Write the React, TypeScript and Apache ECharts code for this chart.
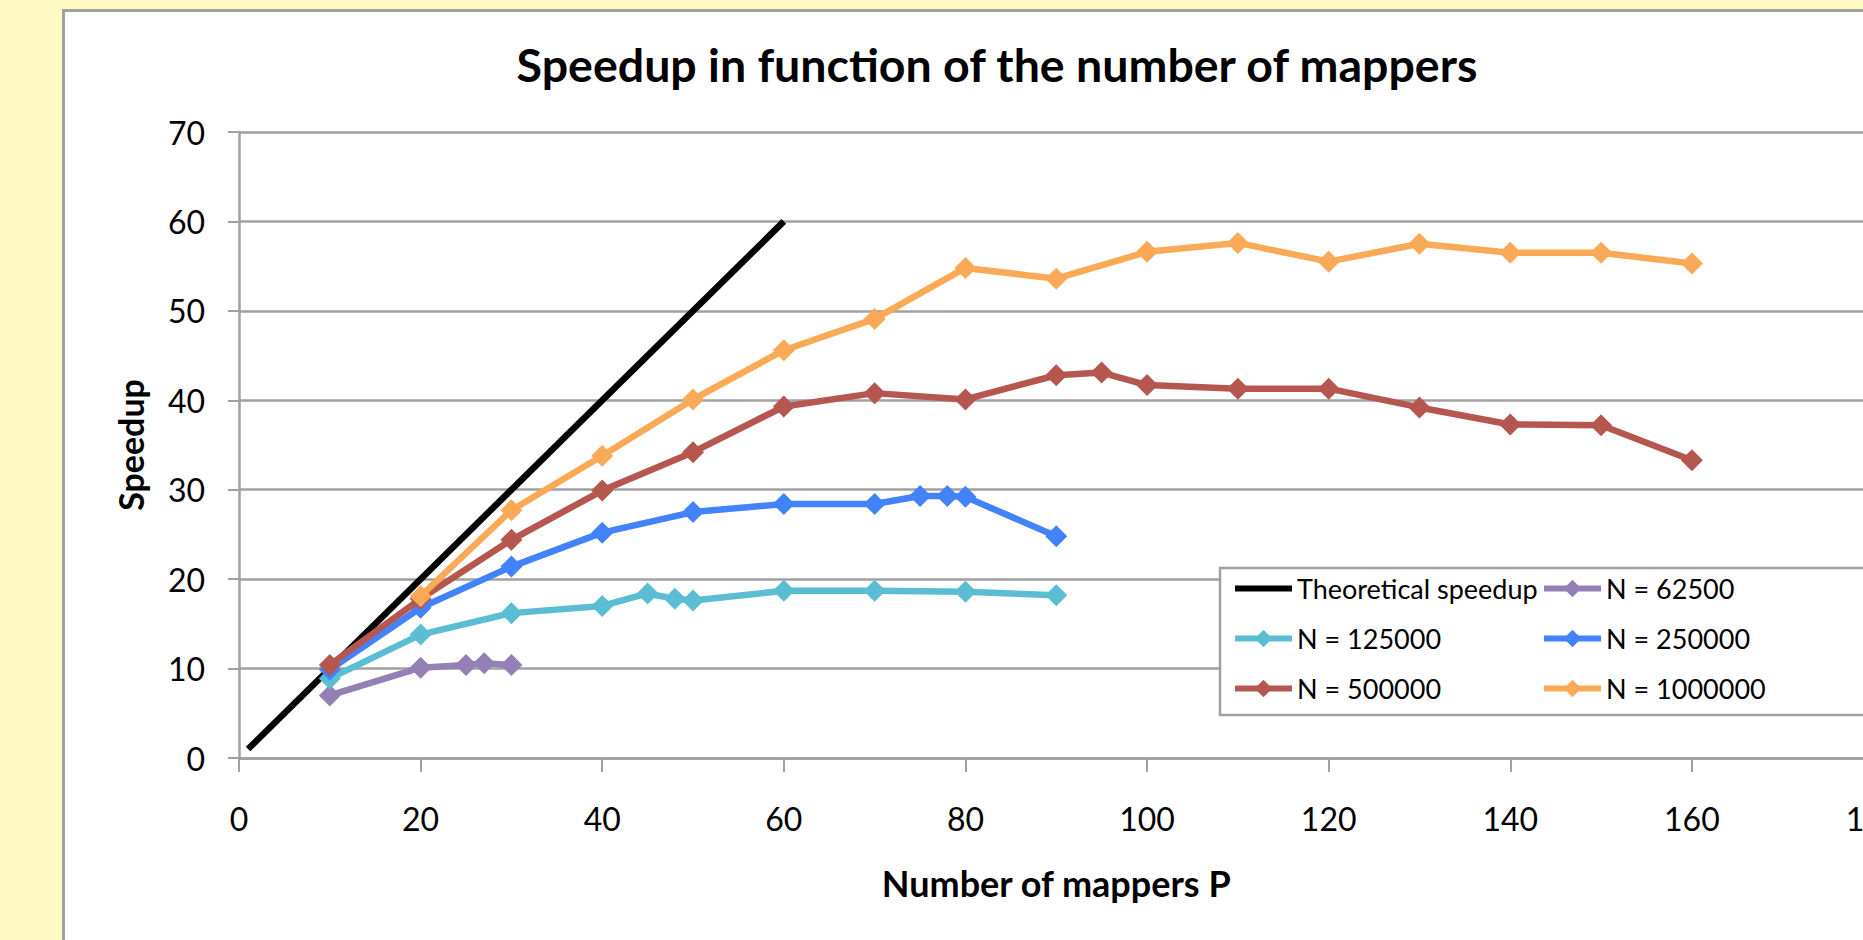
import React, { useEffect, useRef } from "react";
import * as echarts from "echarts";

const seriesNames = [
  "Theoretical speedup",
  "N = 62500",
  "N = 125000",
  "N = 250000",
  "N = 500000",
  "N = 1000000",
];

const theoretical: number[][] = [
  [1, 1],
  [60, 60],
];
const n62500: number[][] = [
  [10, 7.0],
  [20, 10.1],
  [25, 10.4],
  [27, 10.6],
  [30, 10.4],
];
const n125000: number[][] = [
  [10, 8.9],
  [20, 13.8],
  [30, 16.2],
  [40, 17.0],
  [45, 18.4],
  [48, 17.8],
  [50, 17.6],
  [60, 18.7],
  [70, 18.7],
  [80, 18.6],
  [90, 18.2],
];
const n250000: number[][] = [
  [10, 9.9],
  [20, 16.8],
  [30, 21.4],
  [40, 25.2],
  [50, 27.5],
  [60, 28.4],
  [70, 28.4],
  [75, 29.3],
  [78, 29.3],
  [80, 29.2],
  [90, 24.8],
];
const n500000: number[][] = [
  [10, 10.4],
  [20, 17.8],
  [30, 24.4],
  [40, 29.9],
  [50, 34.2],
  [60, 39.3],
  [70, 40.8],
  [80, 40.1],
  [90, 42.8],
  [95, 43.1],
  [100, 41.7],
  [110, 41.3],
  [120, 41.3],
  [130, 39.2],
  [140, 37.3],
  [150, 37.2],
  [160, 33.3],
];
const n1000000: number[][] = [
  [20, 18.1],
  [30, 27.7],
  [40, 33.8],
  [50, 40.1],
  [60, 45.6],
  [70, 49.1],
  [80, 54.8],
  [90, 53.6],
  [100, 56.6],
  [110, 57.6],
  [120, 55.5],
  [130, 57.5],
  [140, 56.5],
  [150, 56.5],
  [160, 55.3],
];

const colors = ["#000000", "#9580B5", "#5BBDD4", "#4283FB", "#B5574F", "#FAA957"];

const FONT = "Lato, 'Open Sans', sans-serif";

export default function App() {
  const ref = useRef<HTMLDivElement>(null);
  useEffect(() => {
    document.body.style.margin = "0";
    const chart = echarts.init(ref.current!, null, { renderer: "svg" });
    const datasets = [theoretical, n62500, n125000, n250000, n500000, n1000000];
    const legendText = { fontFamily: FONT, fontSize: 27, color: "#000" };
    const legendCommon = {
      top: 575,
      orient: "vertical",
      padding: 0,
      itemGap: 23,
      itemWidth: 57,
      itemHeight: 22,
      selectedMode: false,
      lineStyle: { width: 6 },
      textStyle: legendText,
    };
    chart.setOption({
      animation: false,
      color: colors,
      title: {
        text: "Speedup in function of the number of mappers",
        left: "center",
        top: 40,
        padding: 0,
        textStyle: { fontFamily: FONT, fontWeight: "bold", fontSize: 46.5, color: "#000" },
      },
      grid: { left: 239, top: 132, right: 1994 - 1873.5, bottom: 940 - 758, containLabel: false },
      xAxis: {
        type: "value",
        min: 0,
        max: 180,
        interval: 20,
        name: "Number of mappers P",
        nameLocation: "middle",
        nameGap: 107,
        nameTextStyle: { fontFamily: FONT, fontWeight: "bold", fontSize: 36, color: "#000" },
        axisLine: { show: true, lineStyle: { color: "#a0a0a0", width: 2.5 } },
        axisTick: { show: true, length: 14, lineStyle: { color: "#a0a0a0", width: 2 } },
        splitLine: { show: false },
        axisLabel: { fontFamily: FONT, fontSize: 32, color: "#000", margin: 44 },
      },
      yAxis: {
        type: "value",
        min: 0,
        max: 70,
        interval: 10,
        name: "Speedup",
        nameLocation: "middle",
        nameGap: 92,
        nameTextStyle: { fontFamily: FONT, fontWeight: "bold", fontSize: 34, color: "#000" },
        axisLine: { show: true, lineStyle: { color: "#a0a0a0", width: 2.5 } },
        axisTick: { show: true, length: 11, lineStyle: { color: "#a0a0a0", width: 2 } },
        splitLine: { show: true, lineStyle: { color: "#a0a0a0", width: 2.5 } },
        axisLabel: { fontFamily: FONT, fontSize: 32, color: "#000", margin: 34 },
      },
      legend: [
        {
          ...legendCommon,
          left: 1232,
          data: [
            { name: seriesNames[0], itemStyle: { opacity: 0 } },
            seriesNames[2],
            seriesNames[4],
          ],
        },
        {
          ...legendCommon,
          left: 1541,
          data: [seriesNames[1], seriesNames[3], seriesNames[5]],
        },
      ],
      graphic: [
        {
          type: "rect",
          z: 1,
          shape: { x: 1220, y: 568, width: 660, height: 147 },
          style: { fill: "#ffffff", stroke: "#a0a0a0", lineWidth: 2.5 },
        },
      ],
      series: datasets.map((d, i) => ({
        name: seriesNames[i],
        type: "line",
        data: d,
        symbol: i === 0 ? "none" : "diamond",
        symbolSize: 22,
        showSymbol: i !== 0,
        lineStyle: { width: 6.5, color: colors[i] },
        itemStyle: { color: colors[i] },
        z: 2 + i * 0.01,
      })),
    });
    return () => chart.dispose();
  }, []);
  return (
    <div
      style={{
        position: "fixed",
        left: 0,
        top: 0,
        width: 1863,
        height: 940,
        overflow: "hidden",
        background: "#FFF9C4",
      }}
    >
      <div
        style={{
          position: "absolute",
          left: 62,
          top: 9,
          width: 2000,
          height: 1000,
          background: "#ffffff",
          border: "3px solid #a0a0a0",
          boxSizing: "border-box",
        }}
      />
      <div ref={ref} style={{ position: "absolute", left: 0, top: 0, width: 1994, height: 940 }} />
    </div>
  );
}
